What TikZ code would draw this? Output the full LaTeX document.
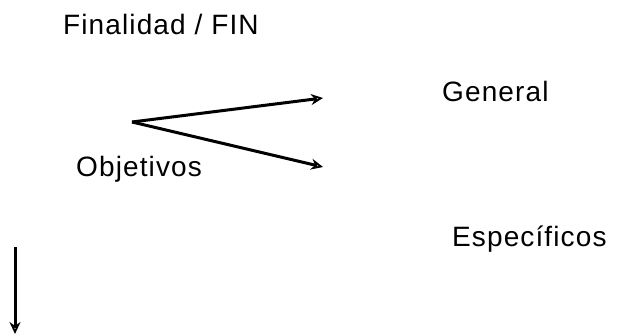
\documentclass[tikz,border=0pt]{standalone}
\usepackage{fontspec}
\setmainfont{Liberation Sans}[LetterSpace=4]
\usetikzlibrary{arrows.meta}
\tikzset{
  label text/.style={anchor=base west, inner sep=0pt, font=\fontsize{28}{32}\selectfont},
  scan arrow/.style={line width=3pt, -{Stealth[length=12pt,width=11pt,open,line width=1.8pt]}}
}
\begin{document}
\begin{tikzpicture}[x=1pt,y=-1pt]
  \useasboundingbox (0,0) rectangle (619,336);
  % texts
  \node[label text] (fin) at (63,35) {Finalidad / FIN};
  \node[label text] (gen) at (442,102) {General};
  \node[label text] (obj) at (76,177) {Objetivos};
  \node[label text] (esp) at (452,247) {Específicos};
  % branch point and arrow ends
  \coordinate (split) at (132,122);
  \coordinate (upper) at (323,98);
  \coordinate (lower) at (323,167);
  \coordinate (vtop) at (15,247);
  \coordinate (vend) at (15,334);
  \draw[scan arrow] (split) -- (upper);
  \draw[scan arrow] (split) -- (lower);
  \draw[scan arrow] (vtop) -- (vend);
\end{tikzpicture}
\end{document}
